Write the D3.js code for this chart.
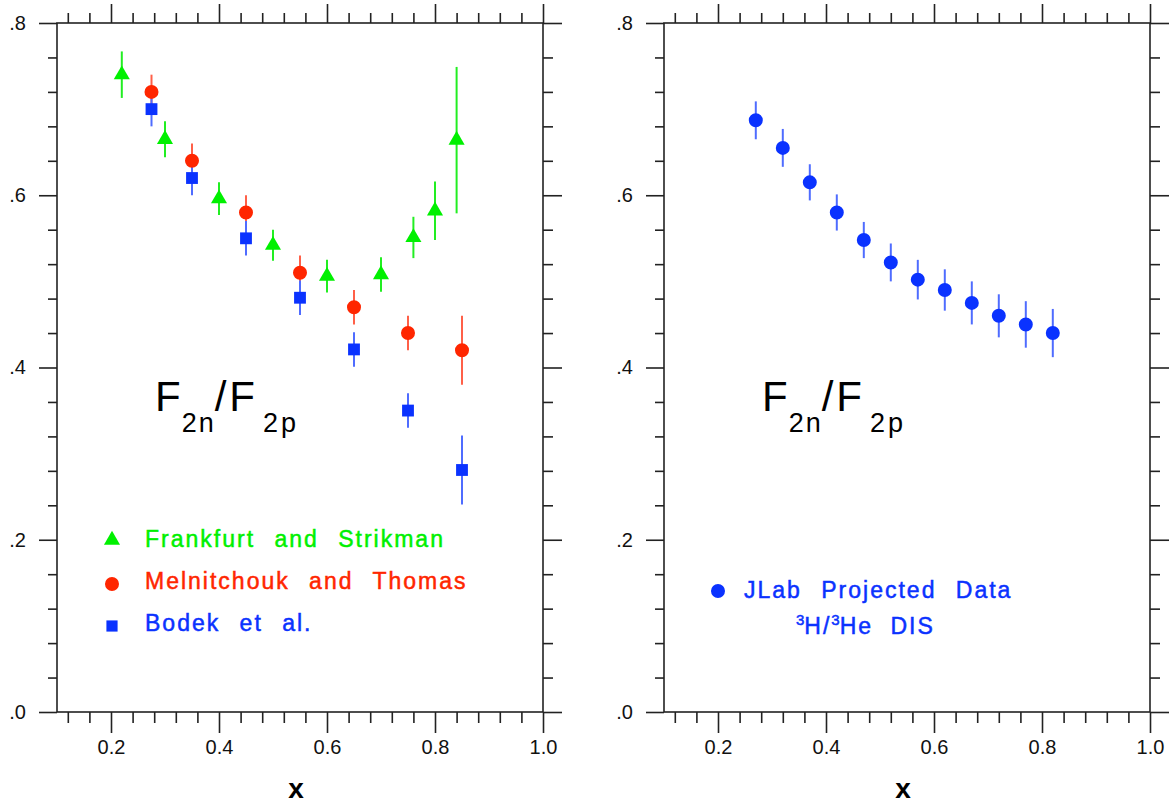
<!DOCTYPE html>
<html>
<head>
<meta charset="utf-8">
<script src="https://cdn.jsdelivr.net/npm/d3@7"></script>
<style>
  html, body { margin: 0; padding: 0; background: #fff; }
  svg { display: block; }
</style>
</head>
<body>
<svg width="1172" height="804"></svg>
<script>
// --- data ---
// Frankfurt and Strikman (green triangles)
var fsX   = [0.22, 0.30, 0.40, 0.50, 0.60, 0.70, 0.76, 0.80, 0.84];
var fsY   = [0.740, 0.665, 0.596, 0.542, 0.506, 0.508, 0.551, 0.582, 0.664];
var fsErr = [0.027, 0.021, 0.019, 0.018, 0.019, 0.020, 0.024, 0.034, 0.085];
// Melnitchouk and Thomas (red circles)
var mtX   = [0.275, 0.35, 0.45, 0.55, 0.65, 0.75, 0.85];
var mtY   = [0.720, 0.640, 0.580, 0.510, 0.470, 0.440, 0.420];
var mtErr = [0.020, 0.020, 0.020, 0.020, 0.020, 0.020, 0.040];
// Bodek et al. (blue squares)
var bkX   = [0.275, 0.35, 0.45, 0.55, 0.65, 0.75, 0.85];
var bkY   = [0.700, 0.620, 0.550, 0.481, 0.421, 0.350, 0.281];
var bkErr = [0.020, 0.020, 0.020, 0.020, 0.020, 0.020, 0.040];
// JLab projected data (right panel)
var jlX   = [0.27, 0.32, 0.37, 0.42, 0.47, 0.52, 0.57, 0.62, 0.67, 0.72, 0.77, 0.82];
var jlY   = [0.687, 0.655, 0.615, 0.580, 0.548, 0.522, 0.502, 0.490, 0.475, 0.460, 0.450, 0.440];
var jlErr = [0.022, 0.022, 0.021, 0.021, 0.021, 0.022, 0.023, 0.024, 0.025, 0.025, 0.027, 0.028];

var xMajor = [0.2, 0.4, 0.6, 0.8, 1.0];
var yMajor = [0.0, 0.2, 0.4, 0.6, 0.8];

var legendLeft = ["Frankfurt and Strikman", "Melnitchouk and Thomas", "Bodek et al."];

var GREEN = "#00f000", RED = "#ff2600", BLUE = "#0a32ff";
var GREEN_E = "#22ee22", RED_E = "#ff6048", BLUE_E = "#4f6cff";
var FONT = "'Liberation Sans', Arial, Helvetica, sans-serif";

var svg = d3.select("svg");

var plotTop = 23, plotBottom = 712, pw = 486;
var y = d3.scaleLinear().domain([0, 0.8]).range([plotBottom, plotTop]);

var xMinor = d3.range(3, 26).filter(function (i) { return i % 5 !== 0; }).map(function (i) { return i * 0.04; });
var yMinor = d3.range(0, 21).filter(function (i) { return i % 5 !== 0; }).map(function (i) { return i * 0.04; });

function drawPanel(left) {
  var x = d3.scaleLinear().domain([0.1, 1.0]).range([left, left + pw]);
  var g = svg.append("g").attr("color", "#222");

  function strip(ax) {
    ax.select(".domain").remove();
    ax.attr("font-family", FONT).attr("font-size", 20);
    ax.selectAll(".tick line").attr("stroke-width", 1.6);
    ax.selectAll("text").attr("fill", "#111");
  }

  // top
  g.append("g").attr("transform", "translate(0," + plotTop + ")")
    .call(d3.axisTop(x).tickValues(xMajor).tickSize(19).tickFormat("")).call(strip);
  g.append("g").attr("transform", "translate(0," + plotTop + ")")
    .call(d3.axisTop(x).tickValues(xMinor).tickSize(10).tickFormat("")).call(strip);
  // bottom
  g.append("g").attr("transform", "translate(0," + plotBottom + ")")
    .call(d3.axisBottom(x).tickValues(xMajor).tickSize(21).tickPadding(7).tickFormat(d3.format(".1f"))).call(strip);
  g.append("g").attr("transform", "translate(0," + plotBottom + ")")
    .call(d3.axisBottom(x).tickValues(xMinor).tickSize(11).tickFormat("")).call(strip);
  // left
  g.append("g").attr("transform", "translate(" + left + ",0)")
    .call(d3.axisLeft(y).tickValues(yMajor).tickSize(18).tickPadding(13)
      .tickFormat(function (d) { return d3.format(".1f")(d).replace(/^0/, ""); })).call(strip);
  g.append("g").attr("transform", "translate(" + left + ",0)")
    .call(d3.axisLeft(y).tickValues(yMinor).tickSize(9).tickFormat("")).call(strip);
  // right
  g.append("g").attr("transform", "translate(" + (left + pw) + ",0)")
    .call(d3.axisRight(y).tickValues(yMajor).tickSize(19).tickFormat("")).call(strip);
  g.append("g").attr("transform", "translate(" + (left + pw) + ",0)")
    .call(d3.axisRight(y).tickValues(yMinor).tickSize(10).tickFormat("")).call(strip);

  g.append("rect")
    .attr("x", left).attr("y", plotTop).attr("width", pw).attr("height", plotBottom - plotTop)
    .attr("fill", "none").attr("stroke", "#222").attr("stroke-width", 1.6);

  g.append("text")
    .attr("x", left + pw / 2 - 4).attr("y", 798)
    .attr("text-anchor", "middle").attr("font-family", FONT)
    .attr("font-size", 28).attr("font-weight", "bold")
    .attr("fill", "#000").text("x");

  // F2n/F2p label
  var t = g.append("text").attr("x", left + 98).attr("y", 411)
    .attr("font-family", FONT).attr("font-size", 42).attr("fill", "#000").attr("letter-spacing", 1);
  t.append("tspan").text("F");
  t.append("tspan").attr("dy", 21).attr("font-size", 27).attr("letter-spacing", 2).text("2n");
  t.append("tspan").attr("dy", -21).attr("dx", -1).attr("letter-spacing", 3).text("/F");
  t.append("tspan").attr("dy", 21).attr("dx", 5).attr("font-size", 27).attr("letter-spacing", 3).text("2p");

  return x;
}

function errorBars(x, xs, ys, es, color) {
  svg.append("g").selectAll("line").data(xs).join("line")
    .attr("x1", function (d) { return x(d); })
    .attr("x2", function (d) { return x(d); })
    .attr("y1", function (d, i) { return y(ys[i] + es[i]); })
    .attr("y2", function (d, i) { return y(ys[i] - es[i]); })
    .attr("stroke", color).attr("stroke-width", 2);
}

function markers(x, xs, ys, type, size, color) {
  var sym = d3.symbol().type(type).size(size);
  svg.append("g").selectAll("path").data(xs).join("path")
    .attr("d", sym)
    .attr("transform", function (d, i) { return "translate(" + x(d) + "," + y(ys[i]) + ")"; })
    .attr("fill", color);
}

var xL = drawPanel(57);
var xR = drawPanel(664);

errorBars(xL, fsX, fsY, fsErr, GREEN_E);
errorBars(xL, mtX, mtY, mtErr, RED_E);
errorBars(xL, bkX, bkY, bkErr, BLUE_E);
markers(xL, fsX, fsY, d3.symbolTriangle, 112, GREEN);
markers(xL, mtX, mtY, d3.symbolCircle, 154, RED);
markers(xL, bkX, bkY, d3.symbolSquare, 140, BLUE);

errorBars(xR, jlX, jlY, jlErr, BLUE_E);
markers(xR, jlX, jlY, d3.symbolCircle, 154, BLUE);

// legends
var legTypes = [d3.symbolTriangle, d3.symbolCircle, d3.symbolSquare];
var legColors = [GREEN, RED, BLUE];
var legSizes = [112, 154, 125];
var legMarkY = [540, 584, 626];
var legBase = [547, 589, 631];
legendLeft.forEach(function (name, i) {
  svg.append("path")
    .attr("d", d3.symbol().type(legTypes[i]).size(legSizes[i]))
    .attr("transform", "translate(112," + legMarkY[i] + ")")
    .attr("fill", legColors[i]);
  svg.append("text")
    .attr("x", 145).attr("y", legBase[i])
    .attr("font-family", FONT).attr("font-size", 23)
    .attr("letter-spacing", 2).attr("word-spacing", 11)
    .attr("fill", legColors[i]).attr("stroke", legColors[i]).attr("stroke-width", 0.5)
    .text(name);
});

svg.append("path")
  .attr("d", d3.symbol().type(d3.symbolCircle).size(154))
  .attr("transform", "translate(718,591)")
  .attr("fill", BLUE);
svg.append("text")
  .attr("x", 744).attr("y", 598)
  .attr("font-family", FONT).attr("font-size", 23)
  .attr("letter-spacing", 2).attr("word-spacing", 11)
  .attr("fill", BLUE).attr("stroke", BLUE).attr("stroke-width", 0.5)
  .text("JLab Projected Data");
var t2 = svg.append("text")
  .attr("x", 796).attr("y", 634)
  .attr("font-family", FONT).attr("font-size", 23)
  .attr("letter-spacing", 2).attr("word-spacing", 9)
  .attr("fill", BLUE).attr("stroke", BLUE).attr("stroke-width", 0.5);
t2.append("tspan").attr("font-size", 15).attr("dy", -9).attr("letter-spacing", 0).text("3");
t2.append("tspan").attr("dy", 9).text("H/");
t2.append("tspan").attr("font-size", 15).attr("dy", -9).attr("letter-spacing", 0).text("3");
t2.append("tspan").attr("dy", 9).text("He DIS");
</script>
</body>
</html>
